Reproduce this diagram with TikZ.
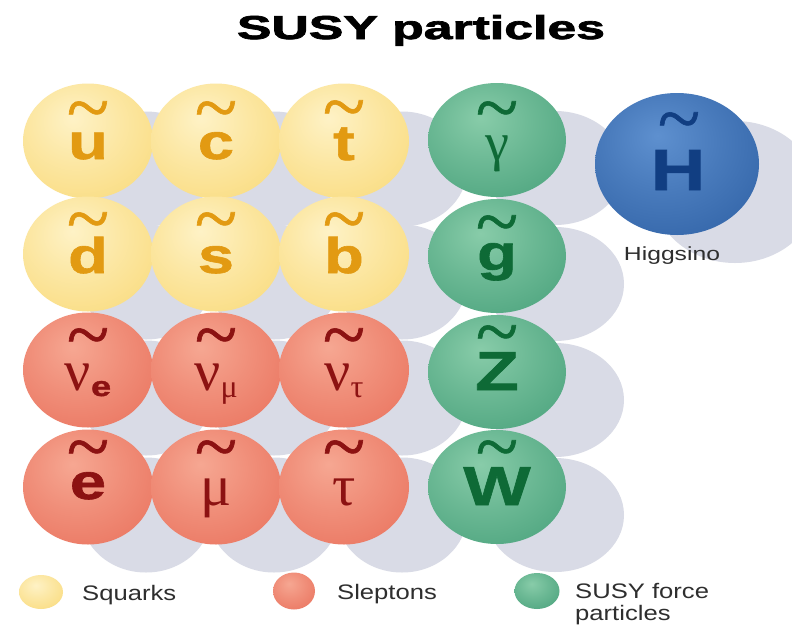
\documentclass[tikz,border=0pt]{standalone}
\usepackage{fontspec}
\usepackage{graphicx}
\setmainfont{Liberation Sans}
\newfontfamily\grk{Liberation Serif}
\newfontfamily\tldfont{Liberation Serif}[FakeBold=0.8]
\newfontfamily\heavy{Liberation Sans Bold}[FakeBold=2]
\newfontfamily\lett{Liberation Sans Bold}[FakeStretch=1.3,FakeBold=1.2]
\newfontfamily\leg{Liberation Sans}[FakeStretch=1.22]
\newfontfamily\legh{Liberation Sans}[FakeStretch=1.3]
\usetikzlibrary{shapes.geometric}
\newcommand\tldglyph{\raisebox{-0.34em}[0.1em][0.1em]{\char"7E}}

\definecolor{yBase}{HTML}{F9D977}
\definecolor{yLight}{HTML}{FEF2C6}
\colorlet{yMid}{yLight!55!yBase}
\colorlet{yDark}{yBase!92!black}
\definecolor{yText}{HTML}{E29A12}
\definecolor{rBase}{HTML}{E9705B}
\definecolor{rLight}{HTML}{F6A792}
\colorlet{rMid}{rLight!55!rBase}
\colorlet{rDark}{rBase!90!black}
\definecolor{rText}{HTML}{8C1212}
\definecolor{gBase}{HTML}{47A07A}
\definecolor{gLight}{HTML}{88CCA9}
\colorlet{gMid}{gLight!55!gBase}
\colorlet{gDark}{gBase!88!black}
\definecolor{gText}{HTML}{0E6A36}
\definecolor{bBase}{HTML}{2D5FA3}
\definecolor{bLight}{HTML}{5E90CF}
\colorlet{bMid}{bLight!55!bBase}
\colorlet{bDark}{bBase!88!black}
\definecolor{bText}{HTML}{113E82}
\definecolor{shd}{HTML}{D9DBE6}
\definecolor{legText}{HTML}{2E2E2E}

\pgfdeclareradialshading{yball}{\pgfpoint{-6bp}{10bp}}{color(0bp)=(yLight); color(18bp)=(yMid); color(42bp)=(yBase); color(56bp)=(yDark); color(80bp)=(yDark)}
\pgfdeclareradialshading{rball}{\pgfpoint{-6bp}{10bp}}{color(0bp)=(rLight); color(18bp)=(rMid); color(42bp)=(rBase); color(56bp)=(rDark); color(80bp)=(rDark)}
\pgfdeclareradialshading{gball}{\pgfpoint{-6bp}{10bp}}{color(0bp)=(gLight); color(18bp)=(gMid); color(42bp)=(gBase); color(56bp)=(gDark); color(80bp)=(gDark)}
\pgfdeclareradialshading{bball}{\pgfpoint{-6bp}{10bp}}{color(0bp)=(bLight); color(18bp)=(bMid); color(42bp)=(bBase); color(56bp)=(bDark); color(80bp)=(bDark)}

\tikzset{
  orb/.style={ellipse, draw=none, inner sep=0pt, minimum width=130pt, minimum height=115pt},
  shadowball/.style={orb, fill=shd},
  ballY/.style={orb, shade, shading=yball},
  ballR/.style={orb, shade, shading=rball},
  ballG/.style={orb, shade, shading=gball, minimum width=138pt, minimum height=114pt},
  ballB/.style={orb, shade, shading=bball, minimum width=164pt, minimum height=142pt},
  tld/.style={inner sep=0pt, anchor=center, font=\tldfont\fontsize{78}{78}\selectfont},
  lt/.style={inner sep=0pt, anchor=base, font=\lett\fontsize{50}{50}\selectfont},
  gk/.style={inner sep=0pt, anchor=base, font=\grk\fontsize{58}{58}\selectfont},
  legtxt/.style={inner sep=0pt, anchor=base west, text=legText, font=\leg\fontsize{21}{21}\selectfont},
}

\begin{document}
\begin{tikzpicture}[x=1pt,y=-1pt]
\useasboundingbox (0,0) rectangle (792,627);
\clip (0,0) rectangle (792,627);
\fill[white] (0,0) rectangle (792,627);

% title
\node[anchor=base, inner sep=0pt] (title) at (421,39) {\resizebox{368pt}{24pt}{\heavy SUSY particles}};

% shadows
\foreach \n/\x/\y in {u/88/141, c/216/141, t/344/141, d/88/254, s/216/254, b/344/254,
  nue/88/370, num/216/370, nut/344/370, e/88/487, mu/216/487, tau/344/487}
  \node[shadowball] (\n-sh) at (\x+58,\y+28) {};
\foreach \n/\x/\y in {ga/497/140, g/497/256, Z/497/372, W/497/487}
  \node[shadowball, minimum width=138pt, minimum height=114pt] (\n-sh) at (\x+58,\y+28) {};
\node[shadowball, minimum width=164pt, minimum height=142pt] (H-sh) at (735,192) {};

% spheres
\foreach \n/\x/\y in {u/88/141, c/216/141, t/344/141, d/88/254, s/216/254, b/344/254}
  \node[ballY] (\n) at (\x,\y) {};
\foreach \n/\x/\y in {nue/88/370, num/216/370, nut/344/370, e/88/487, mu/216/487, tau/344/487}
  \node[ballR] (\n) at (\x,\y) {};
\foreach \n/\x/\y in {ga/497/140, g/497/256, Z/497/372, W/497/487}
  \node[ballG] (\n) at (\x,\y) {};
\node[ballB] (H) at (677,164) {};

% squark letters
\node[tld, text=yText] (u-t) at (88,107) {\tldglyph};
\node[lt, text=yText] (u-l) at (88,159) {u};
\node[tld, text=yText] (c-t) at (216,107) {\tldglyph};
\node[lt, text=yText] (c-l) at (216,159) {c};
\node[tld, text=yText] (t-t) at (344,106) {\tldglyph};
\node[lt, text=yText] (t-l) at (344,160) {t};
\node[tld, text=yText] (d-t) at (88,218) {\tldglyph};
\node[lt, text=yText] (d-l) at (88,273) {d};
\node[tld, text=yText] (s-t) at (216,218) {\tldglyph};
\node[lt, text=yText] (s-l) at (216,273) {s};
\node[tld, text=yText] (b-t) at (344,218) {\tldglyph};
\node[lt, text=yText] (b-l) at (344,273) {b};

% slepton letters
\node[tld, text=rText] (nue-t) at (88,334) {\tldglyph};
\node[gk, text=rText] (nue-l) at (88,390) {ν\raisebox{-6pt}{\lett\fontsize{28}{28}\selectfont e}};
\node[tld, text=rText] (num-t) at (216,334) {\tldglyph};
\node[gk, text=rText] (num-l) at (216,390) {ν\raisebox{-7pt}{\fontsize{32}{32}\selectfont μ}};
\node[tld, text=rText] (nut-t) at (344,334) {\tldglyph};
\node[gk, text=rText] (nut-l) at (344,390) {ν\raisebox{-7pt}{\fontsize{32}{32}\selectfont τ}};
\node[tld, text=rText] (e-t) at (88,446) {\tldglyph};
\node[lt, text=rText] (e-l) at (88,499) {e};
\node[tld, text=rText] (mu-t) at (216,446) {\tldglyph};
\node[gk, text=rText] (mu-l) at (216,505) {μ};
\node[tld, text=rText] (tau-t) at (344,446) {\tldglyph};
\node[gk, text=rText] (tau-l) at (344,505) {τ};

% gaugino letters
\node[tld, text=gText] (ga-t) at (497,107) {\tldglyph};
\node[gk, text=gText, font=\grk\fontsize{54}{54}\selectfont] (ga-l) at (497,160) {γ};
\node[tld, text=gText] (g-t) at (497,221) {\tldglyph};
\node[lt, text=gText] (g-l) at (497,270) {g};
\node[tld, text=gText] (Z-t) at (497,331) {\tldglyph};
\node[lt, text=gText, font=\lett\fontsize{55}{55}\selectfont] (Z-l) at (497,390) {Z};
\node[tld, text=gText] (W-t) at (497,446) {\tldglyph};
\node[lt, text=gText, font=\lett\fontsize{55}{55}\selectfont] (W-l) at (497,505) {W};

% higgsino
\node[tld, text=bText] (H-t) at (679,118) {\tldglyph};
\node[lt, text=bText, font=\lett\fontsize{58}{58}\selectfont] (H-l) at (678,190) {H};
\node[inner sep=0pt, anchor=base, text=legText, font=\legh\fontsize{19}{19}\selectfont] (higgsino) at (672,260) {Higgsino};

% legend
\node[ballY, minimum width=44pt, minimum height=34pt] (lgy) at (41,592) {};
\node[ballR, minimum width=42pt, minimum height=37pt] (lgr) at (294,591) {};
\node[ballG, minimum width=45pt, minimum height=36pt] (lgg) at (537,591) {};
\node[legtxt] (lsq) at (82,600) {Squarks};
\node[legtxt] (lsl) at (337,599) {Sleptons};
\node[legtxt] (lsf1) at (575,598) {SUSY force};
\node[legtxt] (lsf2) at (575,620) {particles};
\end{tikzpicture}
\end{document}
